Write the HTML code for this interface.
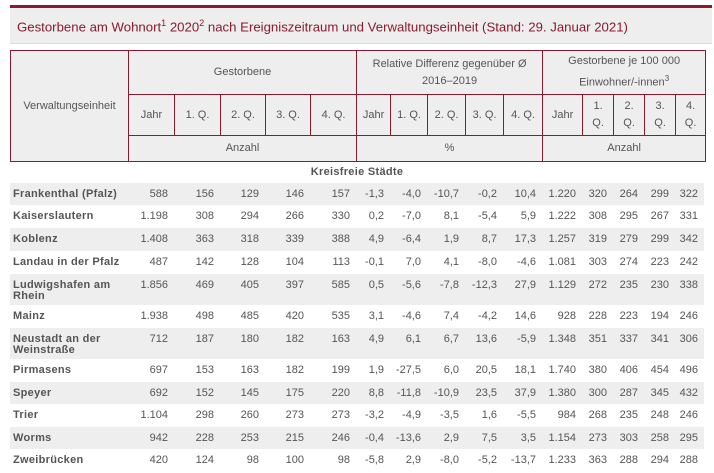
<!DOCTYPE html>
<html><head><meta charset="utf-8"><style>
body{margin:0;background:#fff;width:714px;height:473px;overflow:hidden;font-family:"Liberation Sans",Arial,sans-serif;color:#555;}
.title{position:absolute;left:10px;top:5px;width:702px;height:35px;background:#eeeeee;border-top:3px solid #8b1a2e;border-bottom:1px solid #ddd;}
.title span{position:absolute;left:7px;top:10px;font-size:13.2px;color:#8b1a2e;}
.title sup{font-size:9px;}
table{border-collapse:collapse;table-layout:fixed;position:absolute;left:10px;}
#h{top:50px;width:695px;}
#h td{border:1.5px solid #8b1a2e;background:#eeeeee;text-align:center;font-size:11px;padding:0;line-height:17px;}
#d{top:162px;width:694px;}
#d td{font-size:11px;text-align:right;vertical-align:top;padding:6px 6px 0 0;line-height:11px;white-space:nowrap;}
#d td.l{text-align:left;padding-left:3px;font-weight:bold;white-space:normal;letter-spacing:0.3px;}
#d tr.g td{background:#eeeeee;}
#d tr.k td{text-align:center;font-weight:bold;padding:5px 0 0 0;letter-spacing:0.3px;}
</style></head><body>
<div class="title"><span>Gestorbene am Wohnort<sup>1</sup> 2020<sup>2</sup> nach Ereigniszeitraum und Verwaltungseinheit (Stand: 29. Januar 2021)</span></div>
<table id="h">
<colgroup><col style="width:118px"><col style="width:46px"><col style="width:46px"><col style="width:45px"><col style="width:45px"><col style="width:46px"><col style="width:34px"><col style="width:37px"><col style="width:38px"><col style="width:38px"><col style="width:39px"><col style="width:40px"><col style="width:31px"><col style="width:31px"><col style="width:31px"><col style="width:30px"></colgroup>
<tr style="height:44px"><td rowspan="3">Verwaltungseinheit</td><td colspan="5">Gestorbene</td><td colspan="5">Relative Differenz gegenüber Ø<br>2016–2019</td><td colspan="5">Gestorbene je 100 000<br>Einwohner/-innen<sup style="font-size:8px">3</sup></td></tr>
<tr style="height:41px"><td>Jahr</td><td>1. Q.</td><td>2. Q.</td><td>3. Q.</td><td>4. Q.</td><td>Jahr</td><td>1. Q.</td><td>2. Q.</td><td>3. Q.</td><td>4. Q.</td><td>Jahr</td><td>1.<br>Q.</td><td>2.<br>Q.</td><td>3.<br>Q.</td><td>4.<br>Q.</td></tr>
<tr style="height:26px"><td colspan="5">Anzahl</td><td colspan="5">%</td><td colspan="5">Anzahl</td></tr>
</table>
<table id="d">
<colgroup><col style="width:118px"><col style="width:46px"><col style="width:46px"><col style="width:45px"><col style="width:45px"><col style="width:46px"><col style="width:34px"><col style="width:37px"><col style="width:38px"><col style="width:38px"><col style="width:39px"><col style="width:40px"><col style="width:31px"><col style="width:31px"><col style="width:31px"><col style="width:29px"></colgroup>
<tr class="k" style="height:21px"><td colspan="16">Kreisfreie Städte</td></tr>
<tr class="g" style="height:22px"><td class="l">Frankenthal (Pfalz)</td><td>588</td><td>156</td><td>129</td><td>146</td><td>157</td><td>-1,3</td><td>-4,0</td><td>-10,7</td><td>-0,2</td><td>10,4</td><td>1.220</td><td>320</td><td>264</td><td>299</td><td>322</td></tr>
<tr style="height:23px"><td class="l">Kaiserslautern</td><td>1.198</td><td>308</td><td>294</td><td>266</td><td>330</td><td>0,2</td><td>-7,0</td><td>8,1</td><td>-5,4</td><td>5,9</td><td>1.222</td><td>308</td><td>295</td><td>267</td><td>331</td></tr>
<tr class="g" style="height:23px"><td class="l">Koblenz</td><td>1.408</td><td>363</td><td>318</td><td>339</td><td>388</td><td>4,9</td><td>-6,4</td><td>1,9</td><td>8,7</td><td>17,3</td><td>1.257</td><td>319</td><td>279</td><td>299</td><td>342</td></tr>
<tr style="height:23px"><td class="l">Landau in der Pfalz</td><td>487</td><td>142</td><td>128</td><td>104</td><td>113</td><td>-0,1</td><td>7,0</td><td>4,1</td><td>-8,0</td><td>-4,6</td><td>1.081</td><td>303</td><td>274</td><td>223</td><td>242</td></tr>
<tr class="g" style="height:31px"><td class="l">Ludwigshafen am Rhein</td><td>1.856</td><td>469</td><td>405</td><td>397</td><td>585</td><td>0,5</td><td>-5,6</td><td>-7,8</td><td>-12,3</td><td>27,9</td><td>1.129</td><td>272</td><td>235</td><td>230</td><td>338</td></tr>
<tr style="height:23px"><td class="l">Mainz</td><td>1.938</td><td>498</td><td>485</td><td>420</td><td>535</td><td>3,1</td><td>-4,6</td><td>7,4</td><td>-4,2</td><td>14,6</td><td>928</td><td>228</td><td>223</td><td>194</td><td>246</td></tr>
<tr class="g" style="height:31px"><td class="l">Neustadt an der Weinstraße</td><td>712</td><td>187</td><td>180</td><td>182</td><td>163</td><td>4,9</td><td>6,1</td><td>6,7</td><td>13,6</td><td>-5,9</td><td>1.348</td><td>351</td><td>337</td><td>341</td><td>306</td></tr>
<tr style="height:23px"><td class="l">Pirmasens</td><td>697</td><td>153</td><td>163</td><td>182</td><td>199</td><td>1,9</td><td>-27,5</td><td>6,0</td><td>20,5</td><td>18,1</td><td>1.740</td><td>380</td><td>406</td><td>454</td><td>496</td></tr>
<tr class="g" style="height:22px"><td class="l">Speyer</td><td>692</td><td>152</td><td>145</td><td>175</td><td>220</td><td>8,8</td><td>-11,8</td><td>-10,9</td><td>23,5</td><td>37,9</td><td>1.380</td><td>300</td><td>287</td><td>345</td><td>432</td></tr>
<tr style="height:23px"><td class="l">Trier</td><td>1.104</td><td>298</td><td>260</td><td>273</td><td>273</td><td>-3,2</td><td>-4,9</td><td>-3,5</td><td>1,6</td><td>-5,5</td><td>984</td><td>268</td><td>235</td><td>248</td><td>246</td></tr>
<tr class="g" style="height:22px"><td class="l">Worms</td><td>942</td><td>228</td><td>253</td><td>215</td><td>246</td><td>-0,4</td><td>-13,6</td><td>2,9</td><td>7,5</td><td>3,5</td><td>1.154</td><td>273</td><td>303</td><td>258</td><td>295</td></tr>
<tr style="height:22px"><td class="l">Zweibrücken</td><td>420</td><td>124</td><td>98</td><td>100</td><td>98</td><td>-5,8</td><td>2,9</td><td>-8,0</td><td>-5,2</td><td>-13,7</td><td>1.233</td><td>363</td><td>288</td><td>294</td><td>288</td></tr>
</table>
</body></html>
